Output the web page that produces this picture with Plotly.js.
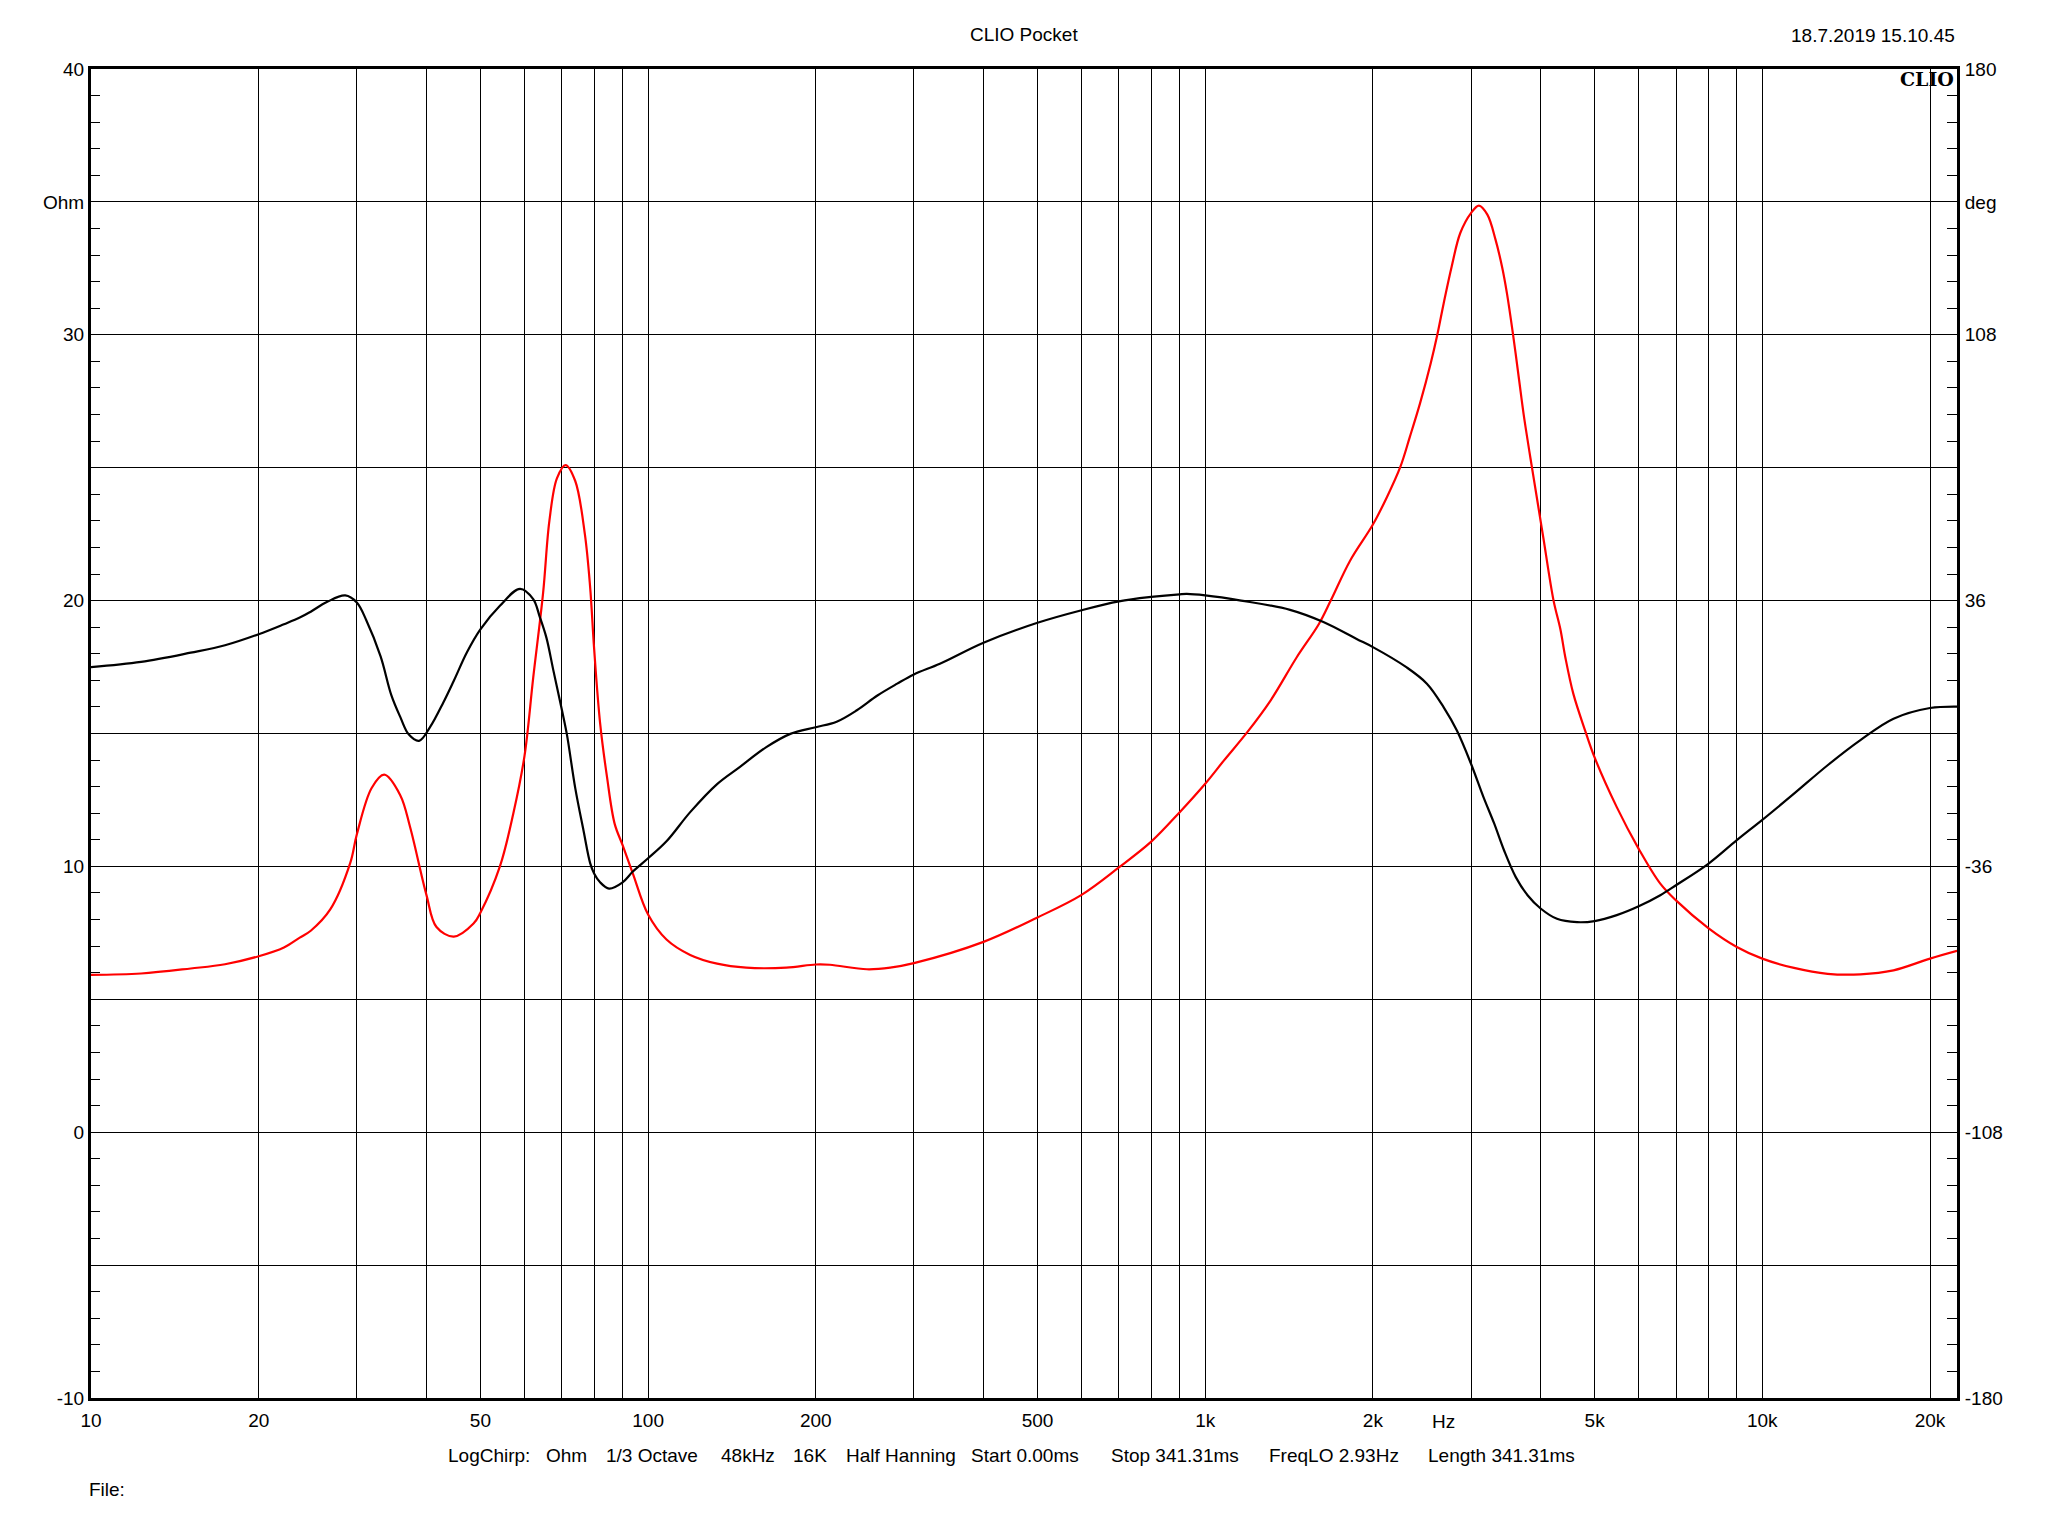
<!DOCTYPE html>
<html>
<head>
<meta charset="utf-8">
<script src="https://cdn.plot.ly/plotly-3.0.1.min.js"></script>
<style>html,body{margin:0;padding:0;background:#fff;}#chart{width:2048px;height:1536px;}</style>
</head>
<body>
<div id="chart"></div>
<script>
// Impedance magnitude (red, left axis, Ohm)
const impFreq = [10,12.3,15.1,17.4,20,22.2,23.7,24.8,26.9,29.2,30,31.9,33.6,35.9,37.4,40,41.7,44.8,48.6,50,54.2,57.3,60,62.2,64.8,66.5,68.6,71.1,74,77,78.7,80,82,84.4,87.1,90,93.9,100,107.9,119,133,150,177,200,212,247,272,300,400,500,600,700,800,900,1000,1080,1190,1310,1460,1600,1680,1820,2000,2120,2240,2330,2430,2540,2610,2680,2770,2870,3000,3100,3210,3320,3410,3480,3570,3660,3730,3860,3940,4000,4050,4220,4340,4430,4580,4810,5000,5480,6000,6560,7000,8000,9000,10000,11400,13100,15000,17200,20000,22370];
const impOhm = [5.92,5.97,6.16,6.32,6.62,6.95,7.32,7.58,8.39,10.13,11.2,12.95,13.45,12.68,11.47,8.93,7.72,7.36,7.85,8.26,10.0,12.0,14.16,17.1,20.3,23.0,24.6,25.1,24.5,22.5,20.5,18.2,15.4,13.35,11.6,10.8,9.73,8.19,7.25,6.67,6.34,6.19,6.19,6.31,6.30,6.13,6.19,6.36,7.16,8.08,8.93,9.96,10.93,12.04,13.11,13.98,15.05,16.24,17.87,19.12,20.0,21.5,22.86,23.9,25.03,26.16,27.42,28.93,30.0,31.19,32.57,33.83,34.58,34.86,34.52,33.58,32.57,31.57,30.0,28.3,27.0,25.0,23.85,23.0,22.3,20.0,18.93,17.87,16.49,15.1,14.1,12.23,10.66,9.35,8.72,7.68,6.97,6.53,6.18,5.96,5.94,6.09,6.53,6.82];

// Impedance phase (black, right axis, deg)
const phaseFreq = [10,12.3,15.1,17.4,20,22.2,23.7,24.8,26.5,28.6,30,31.2,33.1,34.6,35.9,37.2,38.8,40.6,42.9,44.8,47.3,50,54.2,58.9,62.2,63.9,65.7,67.6,70,71.5,74,76.6,78.7,80,82,85.1,90,93.9,100,107.9,119,133,146,163,180,200,218,237,258,280,300,334,400,500,600,700,800,900,927,1000,1160,1420,1630,1870,2000,2300,2500,2680,2830,3000,3160,3300,3440,3610,3790,4000,4280,4650,5000,5480,6000,6560,7000,8000,9000,10000,11400,13100,15000,17200,20000,22370];
const phaseDeg = [18.0,19.4,21.9,23.9,26.9,29.6,31.4,33.0,35.6,37.4,35.5,30.7,20.9,10.4,4.5,-0.3,-2.0,1.7,8.4,14.3,22.0,28.2,34.6,39.2,36.4,31.6,25.9,17.1,6.5,-0.3,-14.8,-26.4,-35.1,-37.9,-40.3,-42.0,-40.3,-37.4,-33.8,-29.2,-21.3,-13.7,-9.1,-3.7,-0.1,1.7,3.2,6.3,10.3,13.5,16.0,18.9,24.6,30.0,33.4,35.8,37.0,37.7,37.8,37.4,36.0,33.5,30.2,25.6,23.4,17.9,13.5,7.1,0.8,-8.2,-17.3,-24.3,-31.7,-38.9,-43.8,-47.4,-50.2,-51.1,-50.8,-49.2,-46.8,-43.8,-41.1,-35.3,-28.9,-23.4,-16.3,-8.6,-1.8,4.0,6.9,7.3];

// Axis ticks
const xGridVals = [10,20,30,40,50,60,70,80,90,100,200,300,400,500,600,700,800,900,1000,2000,3000,4000,5000,6000,7000,8000,9000,10000,20000];
const xLabelVals = [10,20,50,100,200,500,1000,2000,5000,10000,20000];
const xLabelText = ['10','20','50','100','200','500','1k','2k','5k','10k','20k'];
const yLeftVals = [-10,-5,0,5,10,15,20,25,30,35,40];
const yLeftText = ['-10','','0','','10','','20','','30','Ohm','40'];
const yRightVals = [-180,-108,-36,36,108,144,180];
const yRightText = ['-180','-108','-36','36','108','deg','180'];

const infoItems = ['LogChirp:','Ohm','1/3 Octave','48kHz','16K','Half Hanning','Start 0.00ms','Stop 341.31ms','FreqLO 2.93Hz','Length 341.31ms'];
const infoX = [0.1902,0.2428,0.2749,0.3365,0.3751,0.4035,0.4705,0.5456,0.6302,0.7154];

const xTickText = xGridVals.map(v => { const i = xLabelVals.indexOf(v); return i >= 0 ? xLabelText[i] : ''; });

const FONT = 'Liberation Sans, Arial, sans-serif';

const traces = [
  {x: phaseFreq, y: phaseDeg, yaxis: 'y2', type: 'scatter', mode: 'lines',
   line: {color: '#000000', width: 2.2, shape: 'spline', smoothing: 1}, hoverinfo: 'skip'},
  {x: impFreq, y: impOhm, yaxis: 'y', type: 'scatter', mode: 'lines',
   line: {color: '#ff0000', width: 2.2, shape: 'spline', smoothing: 1}, hoverinfo: 'skip'}
];

const annotations = [
  {text: 'CLIO Pocket', xref: 'paper', yref: 'paper', x: 0.5, y: 1.0263, xanchor: 'center', yanchor: 'middle', showarrow: false, font: {family: FONT, size: 19, color: '#000'}},
  {text: '18.7.2019 15.10.45', xref: 'paper', yref: 'paper', x: 1.0, y: 1.0255, xanchor: 'right', yanchor: 'middle', showarrow: false, font: {family: FONT, size: 19, color: '#000'}},
  {text: '<b>CLIO</b>', xref: 'paper', yref: 'paper', x: 0.9992, y: 0.9925, xanchor: 'right', yanchor: 'middle', showarrow: false, font: {family: 'DejaVu Serif, serif', size: 19, color: '#000'}},
  {text: 'Hz', xref: 'paper', yref: 'paper', x: 0.725, y: -0.0175, xanchor: 'center', yanchor: 'middle', showarrow: false, font: {family: FONT, size: 19, color: '#000'}},
  {text: 'File:', xref: 'paper', yref: 'paper', x: -0.002, y: -0.0692, xanchor: 'left', yanchor: 'middle', showarrow: false, font: {family: FONT, size: 19, color: '#000'}}
];
infoItems.forEach((t, i) => annotations.push({text: t, xref: 'paper', yref: 'paper', x: infoX[i], y: -0.0435, xanchor: 'left', yanchor: 'middle', showarrow: false, font: {family: FONT, size: 19, color: '#000'}}));

const layout = {
  width: 2048, height: 1536,
  margin: {l: 91, r: 91, t: 69, b: 138, pad: 0},
  paper_bgcolor: '#ffffff', plot_bgcolor: '#ffffff',
  showlegend: false,
  font: {family: FONT, size: 19, color: '#000'},
  xaxis: {
    type: 'log', range: [1, 4.3495], tickmode: 'array', tickvals: xGridVals, ticktext: xTickText,
    showgrid: true, gridcolor: '#000000', gridwidth: 1, ticks: '', zeroline: false,
    showline: true, linecolor: '#000000', linewidth: 3, mirror: true,
    tickfont: {family: FONT, size: 19, color: '#000'}, ticklabelstandoff: 3
  },
  yaxis: {
    range: [-10, 40], tickmode: 'array', tickvals: yLeftVals, ticktext: yLeftText,
    showgrid: true, gridcolor: '#000000', gridwidth: 1, zeroline: false,
    ticks: 'inside', ticklen: 9, tickcolor: '#000',
    minor: {tickmode: 'linear', tick0: 0, dtick: 1, ticks: 'inside', ticklen: 9, tickcolor: '#000', showgrid: false},
    showline: true, linecolor: '#000000', linewidth: 3, mirror: true,
    tickfont: {family: FONT, size: 19, color: '#000'}, ticklabelstandoff: 0
  },
  yaxis2: {
    overlaying: 'y', side: 'right', range: [-180, 180], tickmode: 'array', tickvals: yRightVals, ticktext: yRightText,
    showgrid: false, zeroline: false,
    ticks: 'inside', ticklen: 10, tickcolor: '#000',
    minor: {tickmode: 'linear', tick0: 0, dtick: 7.2, ticks: 'inside', ticklen: 10, tickcolor: '#000', showgrid: false},
    showline: true, linecolor: '#000000', linewidth: 3,
    tickfont: {family: FONT, size: 19, color: '#000'}, ticklabelstandoff: 1
  },
  annotations: annotations
};

Plotly.newPlot('chart', traces, layout, {staticPlot: true, displayModeBar: false});
</script>
</body>
</html>
